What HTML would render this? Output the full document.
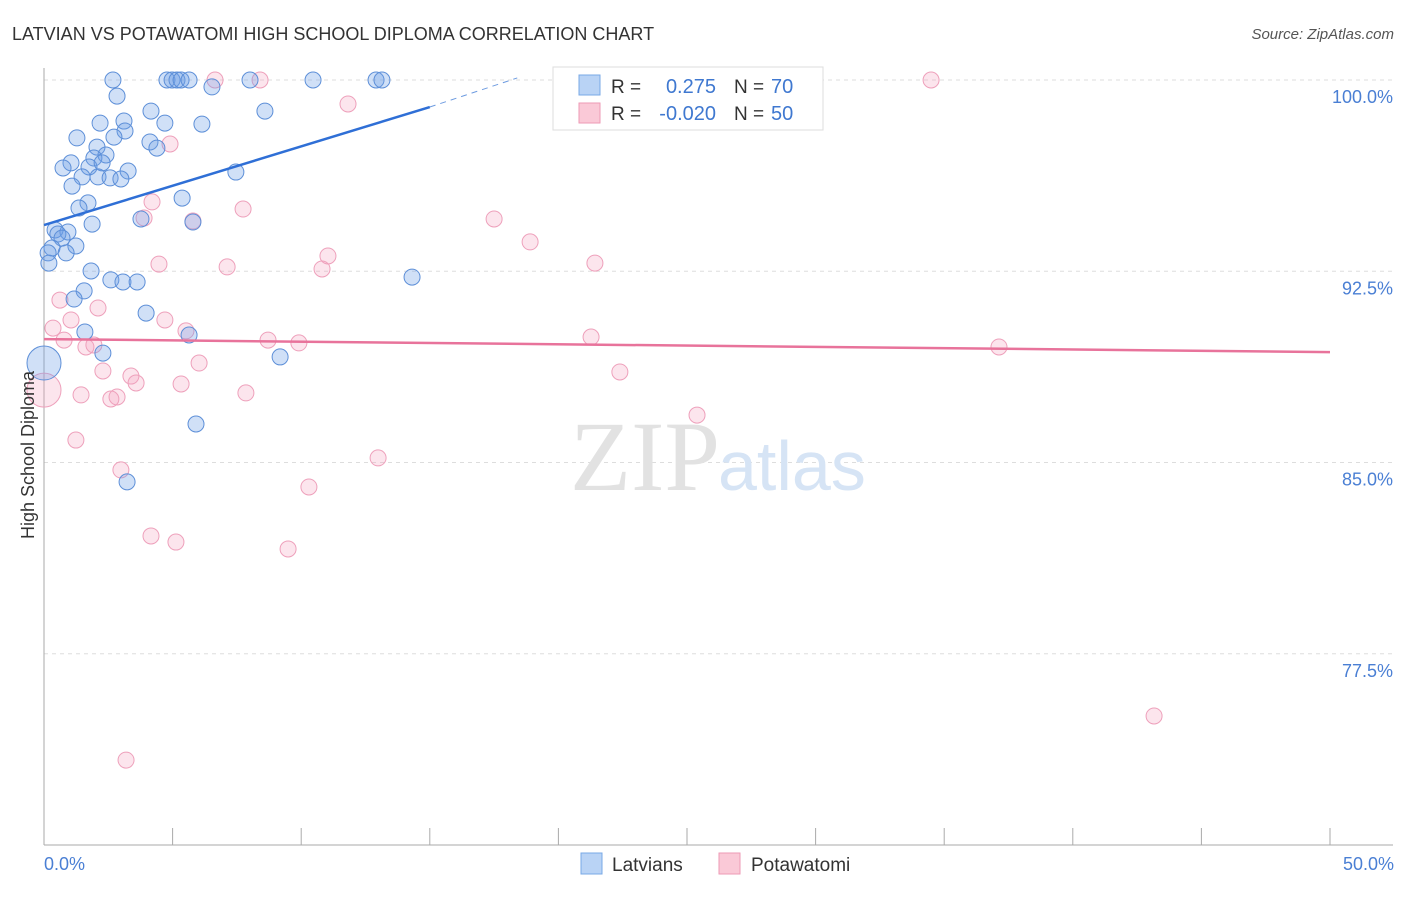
<!DOCTYPE html>
<html><head><meta charset="utf-8"><style>
body{margin:0;background:#fff;font-family:"Liberation Sans",sans-serif;}
svg text{font-family:"Liberation Sans",sans-serif;}
</style></head><body>
<svg id="chart" width="1406" height="892">
<text x="12" y="40" font-size="18" fill="#333">LATVIAN VS POTAWATOMI HIGH SCHOOL DIPLOMA CORRELATION CHART</text>
<text x="1394" y="39" font-size="15" fill="#555" font-style="italic" text-anchor="end">Source: ZipAtlas.com</text>
<g id="grid"></g>
<text x="720" y="490" font-size="100" fill="#e2e2e2" text-anchor="end" font-family="Liberation Serif" style="font-family:'Liberation Serif',serif">ZIP</text>
<text x="718" y="490" font-size="70" fill="#d6e4f5">atlas</text>
<g id="marks"></g>
<text transform="translate(34,455) rotate(-90)" font-size="18" fill="#333" text-anchor="middle">High School Diploma</text>
<text x="44" y="870" font-size="18" fill="#4a7fd4">0.0%</text>
<text x="1394" y="870" font-size="18" fill="#4a7fd4" text-anchor="end">50.0%</text>
<g>
<rect x="581" y="853" width="21" height="21" fill="#b9d3f5" stroke="#78a8e6"/>
<text x="612" y="871" font-size="19" fill="#333">Latvians</text>
<rect x="719" y="853" width="21" height="21" fill="#fac9d7" stroke="#ee9ab6"/>
<text x="751" y="871" font-size="19" fill="#333">Potawatomi</text>
</g>
<g>
<rect x="553" y="67" width="270" height="63" fill="#fff" stroke="#ddd"/>
<rect x="579" y="75" width="21" height="20" fill="#b9d3f5" stroke="#78a8e6"/>
<rect x="579" y="103" width="21" height="20" fill="#fac9d7" stroke="#ee9ab6"/>
<text x="611" y="93" font-size="19" fill="#333">R =</text>
<text x="716" y="93" font-size="20" fill="#3f78d0" text-anchor="end">0.275</text>
<text x="734" y="93" font-size="19" fill="#333">N =</text>
<text x="771" y="93" font-size="20" fill="#3f78d0">70</text>
<text x="611" y="120" font-size="19" fill="#333">R =</text>
<text x="716" y="120" font-size="20" fill="#3f78d0" text-anchor="end">-0.020</text>
<text x="734" y="120" font-size="19" fill="#333">N =</text>
<text x="771" y="120" font-size="20" fill="#3f78d0">50</text>
</g>
</svg>
<script>
const yTicks=[100,92.5,85,77.5];
const yTickLabels=["100.0%","92.5%","85.0%","77.5%"];
const xTicks=[0,5,10,15,20,25,30,35,40,45,50];
const latX=[2.68,4.78,4.98,5.17,5.33,5.64,8.01,10.46,12.91,13.14,2.84,6.53,4.16,8.59,3.11,2.18,4.70,6.14,3.15,2.72,1.28,4.12,4.39,2.06,2.41,1.94,1.05,0.74,1.75,2.26,3.27,7.46,1.48,2.10,2.57,2.99,1.09,1.71,1.36,5.37,3.77,5.79,1.87,0.43,0.93,0.54,0.70,0.31,1.24,0.86,0.16,0.19,1.83,14.31,2.60,3.07,3.62,1.56,1.17,3.97,1.59,5.64,2.29,9.18,0,5.91,3.23];
const latY=[100,100,100,100,100,100,100,100,100,100,99.37,99.73,98.78,98.78,98.39,98.31,98.31,98.27,98.0,97.76,97.73,97.57,97.33,97.37,97.06,96.94,96.75,96.55,96.59,96.75,96.43,96.39,96.2,96.2,96.16,96.12,95.84,95.18,94.98,95.37,94.55,94.43,94.35,94.12,94.04,93.96,93.8,93.41,93.49,93.22,93.22,92.82,92.51,92.27,92.16,92.08,92.08,91.73,91.41,90.86,90.12,90.0,89.29,89.14,88.9,86.51,84.24];
const latBig=[64];
const potX=[6.65,8.40,34.49,11.82,4.90,4.20,7.74,3.89,5.79,17.50,18.90,11.04,4.47,7.12,10.81,21.42,0.62,2.10,4.70,0.35,1.05,5.52,0.78,8.71,9.91,21.27,1.63,1.94,6.03,2.29,3.38,5.33,3.58,22.39,37.13,0,1.44,7.85,2.60,2.84,25.39,1.24,12.99,2.99,10.30,4.16,5.13,9.49,43.16,3.19];
const potY=[100,100,100,99.06,97.49,95.22,94.94,94.59,94.47,94.55,93.65,93.1,92.78,92.67,92.59,92.82,91.37,91.06,90.59,90.27,90.59,90.16,89.8,89.8,89.69,89.92,89.53,89.61,88.9,88.59,88.39,88.08,88.12,88.55,89.53,87.84,87.65,87.73,87.49,87.57,86.86,85.88,85.18,84.71,84.04,82.12,81.88,81.61,75.06,73.33];
const potBig=[35];
const latTrend=[[0,94.31],[15,98.94]];
const latTrendExt=[[15,98.94],[18.4,100.08]];
const potTrend=[[0,89.84],[50,89.33]];

const NS="http://www.w3.org/2000/svg";
const X=v=>44+v*25.72;
const Y=v=>80+(100-v)*25.5;
function mk(tag,attrs,parent){const e=document.createElementNS(NS,tag);for(const k in attrs)e.setAttribute(k,attrs[k]);parent.appendChild(e);return e;}
const grid=document.getElementById('grid'),marks=document.getElementById('marks');
yTicks.forEach((t,i)=>{
 const l=mk('line',{x1:44,x2:1393,y1:Y(t),y2:Y(t),stroke:'#ddd','stroke-dasharray':'4,4'},grid);
 
 
 const tx=mk('text',{x:1393,y:Y(t)+23,'font-size':18,fill:'#4a7fd4','text-anchor':'end'},grid);
 tx.textContent=yTickLabels[i];
 
 
});
const ax=mk('line',{x1:44,x2:44,y1:68,y2:845,stroke:'#aaa'},grid);


const bx=mk('line',{x1:44,x2:1393,y1:845,y2:845,stroke:'#aaa'},grid);


xTicks.forEach(t=>{
 const l=mk('line',{x1:X(t),x2:X(t),y1:828,y2:845,stroke:'#aaa'},grid);
 
 
});
function pts(xs,ys,big,fill,stroke,name){
 xs.forEach((x,i)=>{
  const c=mk('circle',{cx:X(x),cy:Y(ys[i]),r:big.includes(i)?17:8,fill:fill,stroke:stroke,'stroke-width':1},marks);
  
  
 });
}
pts(potX,potY,potBig,'rgba(245,160,190,0.28)','#eea0bb','potawatomi-point');
pts(latX,latY,latBig,'rgba(110,160,230,0.32)','#5d8fd8','latvian-point');
function line(p,col,dash,name){
 const l=mk('line',{x1:X(p[0][0]),y1:Y(p[0][1]),x2:X(p[1][0]),y2:Y(p[1][1]),stroke:col,'stroke-width':dash?1:2.5},marks);
 if(dash)l.setAttribute('stroke-dasharray','6,5');
 
 
}
line(latTrend,'#2f6fd6',false,'latvian-trendline');
line(latTrendExt,'#6d9be0',true,'latvian-trendline-extension');
line(potTrend,'#e8739b',false,'potawatomi-trendline');
</script>
</body></html>
